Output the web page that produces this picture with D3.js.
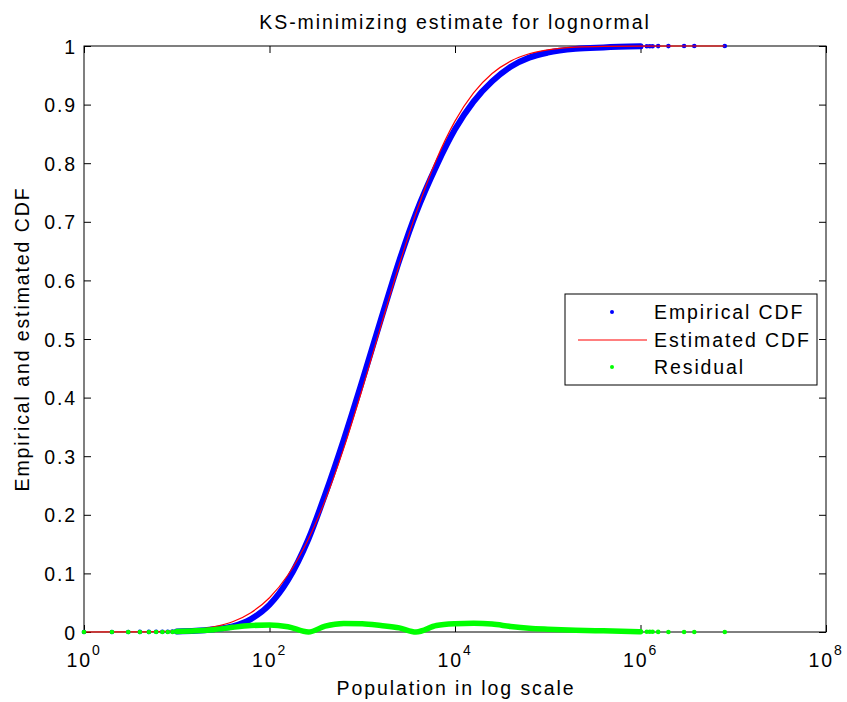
<!DOCTYPE html>
<html>
<head>
<meta charset="utf-8">
<script src="https://cdn.jsdelivr.net/npm/d3@7"></script>
<style>
  body { margin: 0; background: #fff; }
  text { font-family: "Liberation Sans", Arial, sans-serif; }
</style>
</head>
<body>
<svg id="chart" width="847" height="702"></svg>
<script>
// values
const population = [10, 16, 25, 40, 63, 100, 158, 263, 398, 631, 1000, 1585, 2512, 3802,
  6310, 10000, 15850, 25120, 39810, 63100, 100000, 199500, 398100, 1000000];
const empiricalCdf = [0.0010, 0.0020, 0.0047, 0.0095, 0.0220, 0.0465, 0.0883, 0.1587, 0.2346,
  0.3279, 0.4285, 0.5325, 0.6341, 0.7148, 0.7954, 0.8578, 0.9052, 0.9396, 0.9647, 0.9802,
  0.9887, 0.9951, 0.9975, 0.9994];
const residual = [0.0008, 0.0020, 0.0040, 0.0080, 0.0110, 0.0120, 0.0090, 0.0000, 0.0100,
  0.0145, 0.0140, 0.0110, 0.0070, 0.0000, 0.0110, 0.0140, 0.0148, 0.0135, 0.0095, 0.0065,
  0.0048, 0.0030, 0.0020, 0.0005];

// isolated observations at both ends
const tailPopulation = [1, 2, 3, 4, 5, 6, 7, 8, 9,
  1170000, 1260000, 1350000, 1550000, 2000000, 2950000, 3800000, 8100000];
const tailEmpirical = [0.00002, 0.00005, 0.0001, 0.00015, 0.0002, 0.0003, 0.0004, 0.0005, 0.0007,
  0.9995, 0.9996, 0.9997, 0.9998, 0.99985, 0.9999, 0.99995, 1];
const tailResidual = [0, 0, 0, 0, 0, 0, 0, 0, 0.0002,
  0.0004, 0.0003, 0.0003, 0.0002, 0.0001, 0.0001, 0, 0];

// fitted lognormal
const estPopulation = [1, 3, 6, 10, 16, 25, 40, 63, 100, 158, 263, 398, 631, 1000, 1585, 2512,
  3802, 6310, 10000, 15850, 25120, 39810, 63100, 100000, 199500, 398100, 1000000, 8100000];
const estimatedCdf = [0.00001, 0.00014, 0.00064, 0.0018, 0.0040, 0.0087, 0.0175, 0.0330, 0.0585,
  0.0973, 0.1587, 0.2246, 0.3134, 0.4145, 0.5215, 0.6271, 0.7148, 0.8064, 0.8718, 0.9200,
  0.9531, 0.9742, 0.9867, 0.9935, 0.9981, 0.9995, 0.9999, 1];

const xTicks = [1, 100, 10000, 1000000, 100000000];
const xExponents = ["0", "2", "4", "6", "8"];
const yTicks = [0, 0.1, 0.2, 0.3, 0.4, 0.5, 0.6, 0.7, 0.8, 0.9, 1];
const yLabels = ["0", "0.1", "0.2", "0.3", "0.4", "0.5", "0.6", "0.7", "0.8", "0.9", "1"];

const plotLeft = 84, plotRight = 826, plotTop = 46, plotBottom = 632;
const fontSize = 19.5, spacing = "1.9px";

const svg = d3.select('#chart');
const x = d3.scaleLog().domain([1, 1e8]).range([plotLeft, plotRight]);
const y = d3.scaleLinear().domain([0, 1]).range([plotBottom, plotTop]);

// frame
svg.append('rect')
  .attr('x', plotLeft).attr('y', plotTop)
  .attr('width', plotRight - plotLeft).attr('height', plotBottom - plotTop)
  .attr('fill', '#fff').attr('stroke', '#000').attr('stroke-width', 1);

// inward ticks on all four sides
function ticks(axis, tx, ty) {
  const g = svg.append('g').attr('transform', `translate(${tx},${ty})`).call(axis);
  g.select('.domain').remove();
  g.selectAll('.tick line').attr('stroke', '#000');
  return g;
}
ticks(d3.axisBottom(x).tickValues(xTicks).tickSize(-7).tickSizeOuter(0).tickFormat(''), 0, plotBottom);
ticks(d3.axisTop(x).tickValues(xTicks).tickSize(-7).tickSizeOuter(0).tickFormat(''), 0, plotTop);
ticks(d3.axisRight(y).tickValues(yTicks).tickSize(-7).tickSizeOuter(0).tickFormat(''), plotRight, 0);
const yAxis = ticks(d3.axisLeft(y).tickValues(yTicks).tickSize(-7).tickSizeOuter(0).tickPadding(7)
  .tickFormat((d, i) => yLabels[i]), plotLeft, 0);
yAxis.attr('font-size', null).attr('font-family', null);
yAxis.selectAll('.tick text')
  .attr('fill', '#000').attr('font-size', fontSize).style('letter-spacing', spacing)
  .attr('dy', '0.36em');

// x labels as powers of ten
const xl = svg.append('g').selectAll('text').data(xTicks).join('text')
  .attr('x', d => x(d)).attr('y', 667)
  .attr('text-anchor', 'middle').attr('font-size', fontSize).style('letter-spacing', spacing);
xl.append('tspan').text('10');
xl.append('tspan').attr('font-size', 14).attr('dy', -12).text((d, i) => xExponents[i]);

const line = d3.line().x(d => x(d[0])).y(d => y(d[1])).curve(d3.curveMonotoneX);

// empirical CDF
svg.append('path')
  .datum(population.map((p, i) => [p, empiricalCdf[i]]))
  .attr('d', line).attr('fill', 'none')
  .attr('stroke', '#0000ff').attr('stroke-width', 6).attr('stroke-linecap', 'round');
svg.append('g').selectAll('circle').data(tailPopulation).join('circle')
  .attr('cx', d => x(d)).attr('cy', (d, i) => y(tailEmpirical[i]))
  .attr('r', 2.3).attr('fill', '#0000ff');

// estimated CDF
svg.append('path')
  .datum(estPopulation.map((p, i) => [p, estimatedCdf[i]]))
  .attr('d', line).attr('fill', 'none')
  .attr('stroke', '#ff0000').attr('stroke-width', 1.2);

// residual
svg.append('path')
  .datum(population.map((p, i) => [p, residual[i]]))
  .attr('d', line).attr('fill', 'none')
  .attr('stroke', '#00ff00').attr('stroke-width', 5.5).attr('stroke-linecap', 'round');
svg.append('g').selectAll('circle').data(tailPopulation).join('circle')
  .attr('cx', d => x(d)).attr('cy', (d, i) => y(tailResidual[i]))
  .attr('r', 2.3).attr('fill', '#00ff00');

// title and axis labels
svg.append('text').attr('x', 455).attr('y', 29).attr('text-anchor', 'middle')
  .attr('font-size', fontSize).style('letter-spacing', spacing)
  .text('KS-minimizing estimate for lognormal');
svg.append('text').attr('x', 456).attr('y', 695).attr('text-anchor', 'middle')
  .attr('font-size', fontSize).style('letter-spacing', spacing)
  .text('Population in log scale');
svg.append('text').attr('transform', 'translate(29,339) rotate(-90)').attr('text-anchor', 'middle')
  .attr('font-size', fontSize).style('letter-spacing', spacing)
  .text('Empirical and estimated CDF');

// legend
const legend = svg.append('g');
legend.append('rect').attr('x', 565).attr('y', 294).attr('width', 252).attr('height', 91)
  .attr('fill', '#fff').attr('stroke', '#000');
const entries = ['Empirical CDF', 'Estimated CDF', 'Residual'];
const entryY = [312, 340, 367];
legend.append('circle').attr('cx', 612).attr('cy', entryY[0]).attr('r', 2).attr('fill', '#0000ff');
legend.append('line').attr('x1', 578).attr('x2', 647).attr('y1', entryY[1]).attr('y2', entryY[1])
  .attr('stroke', '#ff0000').attr('stroke-width', 1.2);
legend.append('circle').attr('cx', 612).attr('cy', entryY[2]).attr('r', 2).attr('fill', '#00ff00');
legend.selectAll('text').data(entries).join('text')
  .attr('x', 654).attr('y', (d, i) => entryY[i] + 7)
  .attr('font-size', fontSize).style('letter-spacing', spacing)
  .text(d => d);
</script>
</body>
</html>
